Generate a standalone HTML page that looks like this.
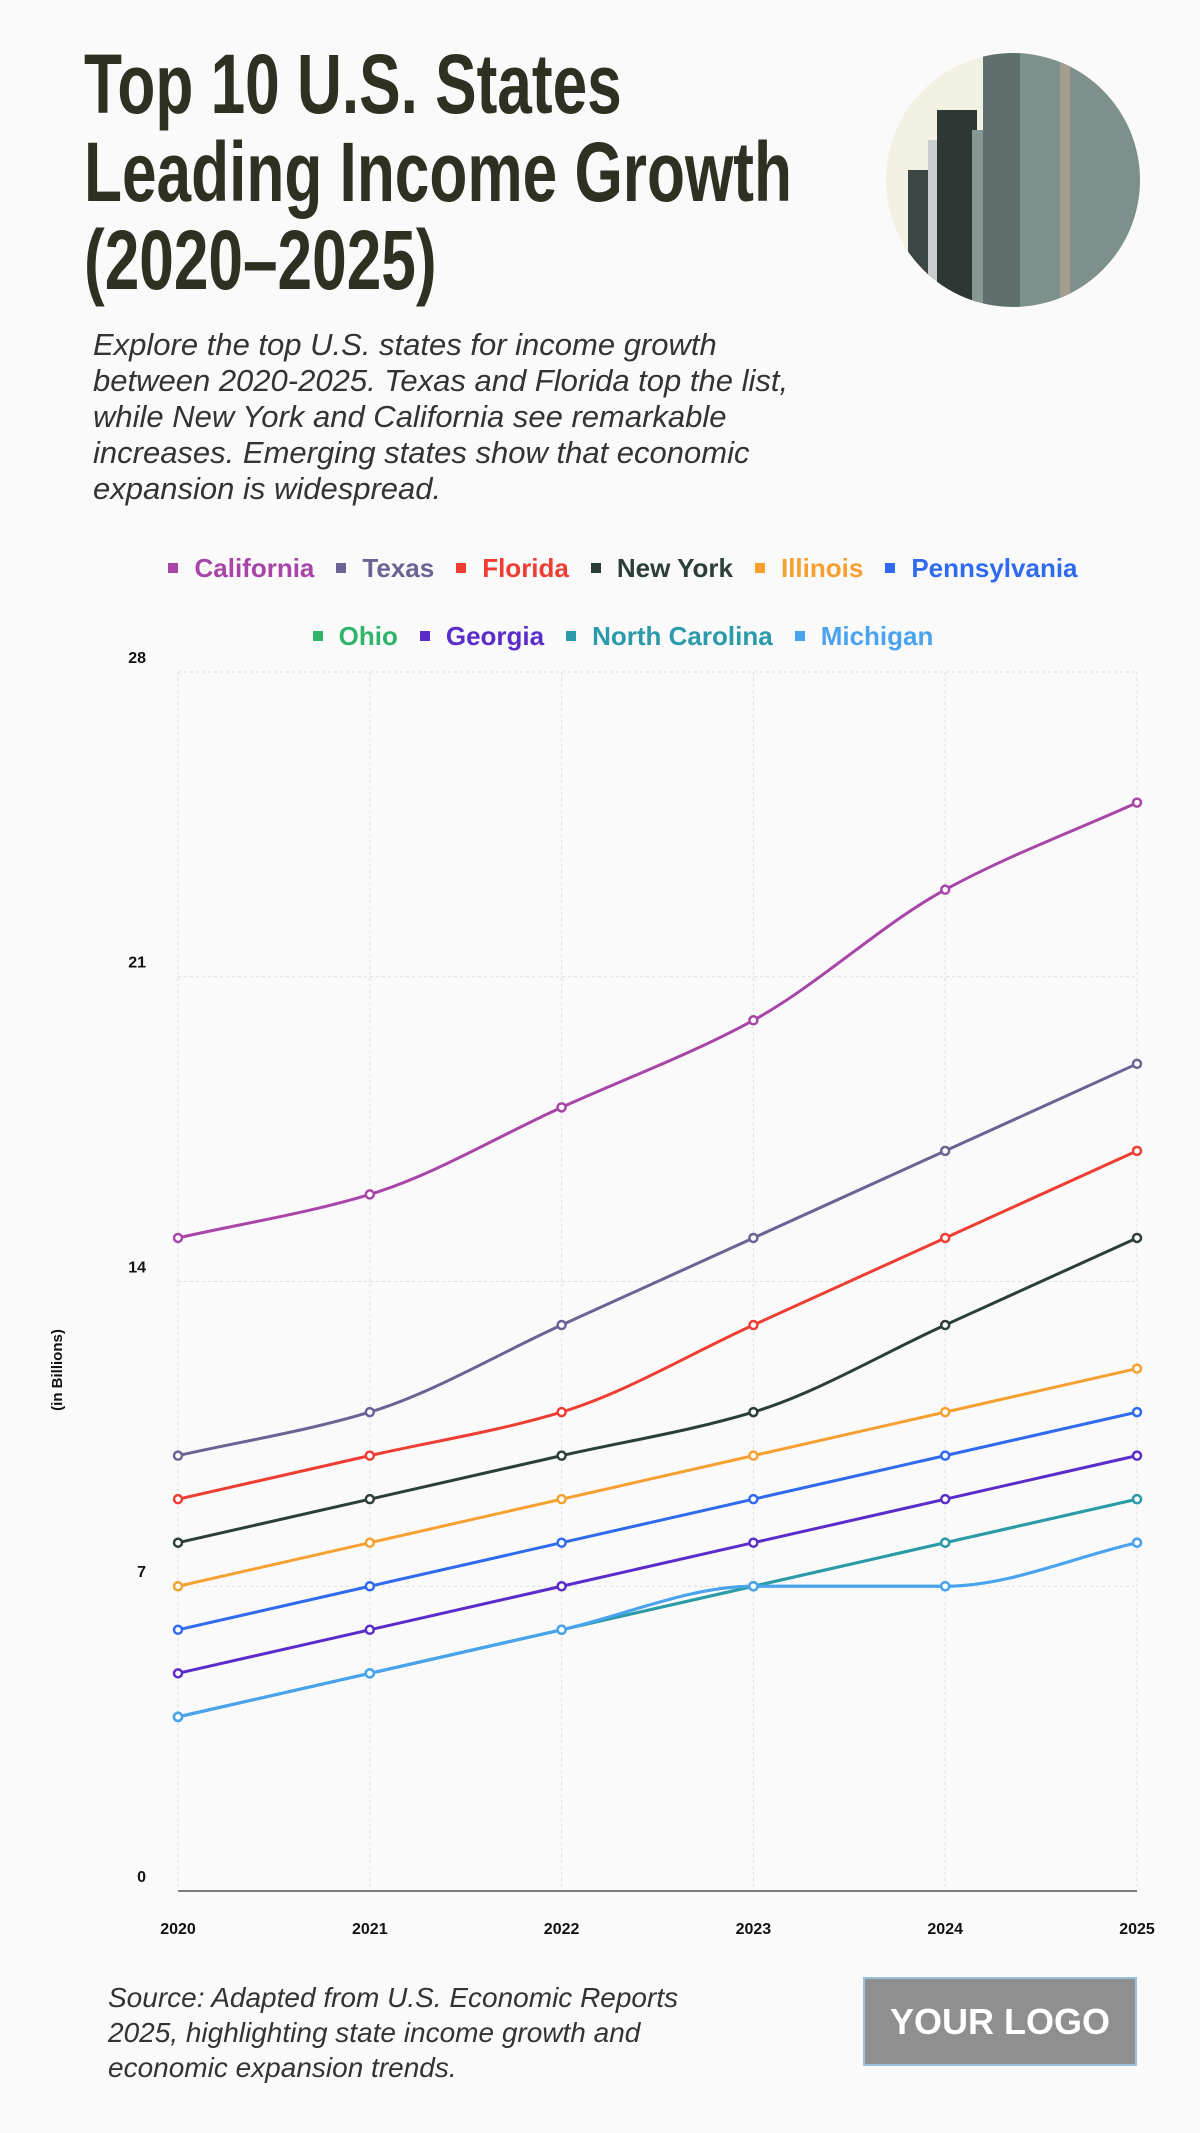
<!DOCTYPE html>
<html><head><meta charset="utf-8"><style>
body{margin:0;background:#fafafa;width:1200px;height:2133px;overflow:hidden;position:relative;font-family:"Liberation Sans",sans-serif}
.t{position:absolute;left:84px;top:40px;font-weight:bold;font-size:84px;line-height:88px;color:#2e3022;transform:scaleX(0.74);transform-origin:0 0;white-space:nowrap}
.s{position:absolute;left:93px;top:327px;font-style:italic;font-size:31px;line-height:36px;color:#333;white-space:nowrap}
.lg{position:absolute;left:23px;width:1200px;text-align:center;font-weight:bold;font-size:26px;white-space:nowrap}
.lg span{margin:0 11px}
.lg i{display:inline-block;width:10px;height:10px;margin-right:16px;vertical-align:4px}
.src{position:absolute;left:108px;top:1980px;font-style:italic;font-size:28px;line-height:35px;color:#333}
.logo{position:absolute;left:863px;top:1977px;width:270px;height:85px;background:#8f8f8f;border:2px solid #9cc0dc;color:#fff;font-weight:bold;font-size:36px;text-align:center;line-height:85px}
</style></head><body>
<div class="t">Top 10 U.S. States<br>Leading Income Growth<br>(2020–2025)</div>
<div class="s">Explore the top U.S. states for income growth<br>between 2020-2025. Texas and Florida top the list,<br>while New York and California see remarkable<br>increases. Emerging states show that economic<br>expansion is widespread.</div>
<svg style="position:absolute;left:0;top:0" width="1200" height="330">
<defs><clipPath id="c"><circle cx="1013" cy="180" r="127"/></clipPath></defs>
<g clip-path="url(#c)">
<rect x="880" y="50" width="270" height="260" fill="#f3f1e3"/>
<rect x="908" y="170" width="25" height="140" fill="#3c4644"/>
<rect x="928" y="140" width="12" height="170" fill="#c9cccc"/>
<rect x="937" y="110" width="40" height="200" fill="#2f3735"/>
<rect x="972" y="130" width="22" height="180" fill="#8a9694"/>
<rect x="983" y="50" width="40" height="260" fill="#5f706c"/>
<rect x="1020" y="50" width="130" height="260" fill="#7d908c"/>
<rect x="1060" y="60" width="10" height="250" fill="#a59c8c"/>
</g></svg>
<div class="lg" style="top:553px">
<span style="color:#a845a8"><i style="background:#a845a8"></i>California</span><span style="color:#6b6394"><i style="background:#6b6394"></i>Texas</span><span style="color:#ee3e33"><i style="background:#ee3e33"></i>Florida</span><span style="color:#2c3e3a"><i style="background:#2c3e3a"></i>New York</span><span style="color:#f5a030"><i style="background:#f5a030"></i>Illinois</span><span style="color:#2f6aef"><i style="background:#2f6aef"></i>Pennsylvania</span></div>
<div class="lg" style="top:621px">
<span style="color:#2fb469"><i style="background:#2fb469"></i>Ohio</span><span style="color:#5a2ccc"><i style="background:#5a2ccc"></i>Georgia</span><span style="color:#2b9aa9"><i style="background:#2b9aa9"></i>North Carolina</span><span style="color:#4aa3ee"><i style="background:#4aa3ee"></i>Michigan</span></div>
<svg id="ch" style="position:absolute;left:0;top:0" width="1200" height="2133" font-family="Liberation Sans, sans-serif"></svg>
<div class="src">Source: Adapted from U.S. Economic Reports<br>2025, highlighting state income growth and<br>economic expansion trends.</div>
<div class="logo">YOUR LOGO</div>
<script>
var svg=document.getElementById('ch'),h='';
function X(i){return 178+i*191.8}function Y(v){return 1891-v*43.536}
for(var i=0;i<6;i++){h+='<line x1="'+X(i)+'" y1="672" x2="'+X(i)+'" y2="1891" stroke="#ddd" stroke-dasharray="3,3"/>';
h+='<text x="'+X(i)+'" y="1934" font-size="16" font-weight="bold" text-anchor="middle" fill="#111">'+(2020+i)+'</text>';}
[0,7,14,21,28].forEach(function(v){if(v>0)h+='<line x1="178" y1="'+Y(v)+'" x2="1137" y2="'+Y(v)+'" stroke="#ddd" stroke-dasharray="3,3"/>';
h+='<text x="146" y="'+(Y(v)-9)+'" font-size="16" font-weight="bold" text-anchor="end" fill="#111">'+v+'</text>';});
h+='<line x1="178" y1="1891" x2="1137" y2="1891" stroke="#555" stroke-width="1.5"/>';
h+='<text transform="translate(62,1370) rotate(-90)" font-size="15" font-weight="bold" text-anchor="middle" fill="#111">(in Billions)</text>';
var S=[['#2fb469',[4,5,6,7,8,9]],['#4aa3ee',[4,5,6,7,7,8]],['#2b9aa9',[4,5,6,7,8,9]],['#4aa3ee',[4,5,6,7,7,8]],['#5a2ccc',[5,6,7,8,9,10]],['#2f6aef',[6,7,8,9,10,11]],['#f5a030',[7,8,9,10,11,12]],['#2c3e3a',[8,9,10,11,13,15]],['#ee3e33',[9,10,11,13,15,17]],['#6b6394',[10,11,13,15,17,19]],['#a845a8',[15,16,18,20,23,25]]];
function mono(ys){var n=ys.length,d=[],m=[];for(var i=0;i<n-1;i++)d.push(ys[i+1]-ys[i]);
m[0]=d[0];m[n-1]=d[n-2];for(i=1;i<n-1;i++){m[i]=(d[i-1]*d[i]<=0)?0:2/(1/d[i-1]+1/d[i]);}
var p='M'+X(0)+','+Y(ys[0]);for(i=0;i<n-1;i++){p+=' C'+(X(i)+191.8/3)+','+Y(ys[i]+m[i]/3)+' '+(X(i+1)-191.8/3)+','+Y(ys[i+1]-m[i+1]/3)+' '+X(i+1)+','+Y(ys[i+1]);}return p;}
S.forEach(function(s){h+='<path d="'+mono(s[1])+'" fill="none" stroke="'+s[0]+'" stroke-width="3"/>';
s[1].forEach(function(v,i){h+='<circle cx="'+X(i)+'" cy="'+Y(v)+'" r="4" fill="#fff" stroke="'+s[0]+'" stroke-width="2.5"/>';});});
svg.innerHTML=h;
</script>
</body></html>
